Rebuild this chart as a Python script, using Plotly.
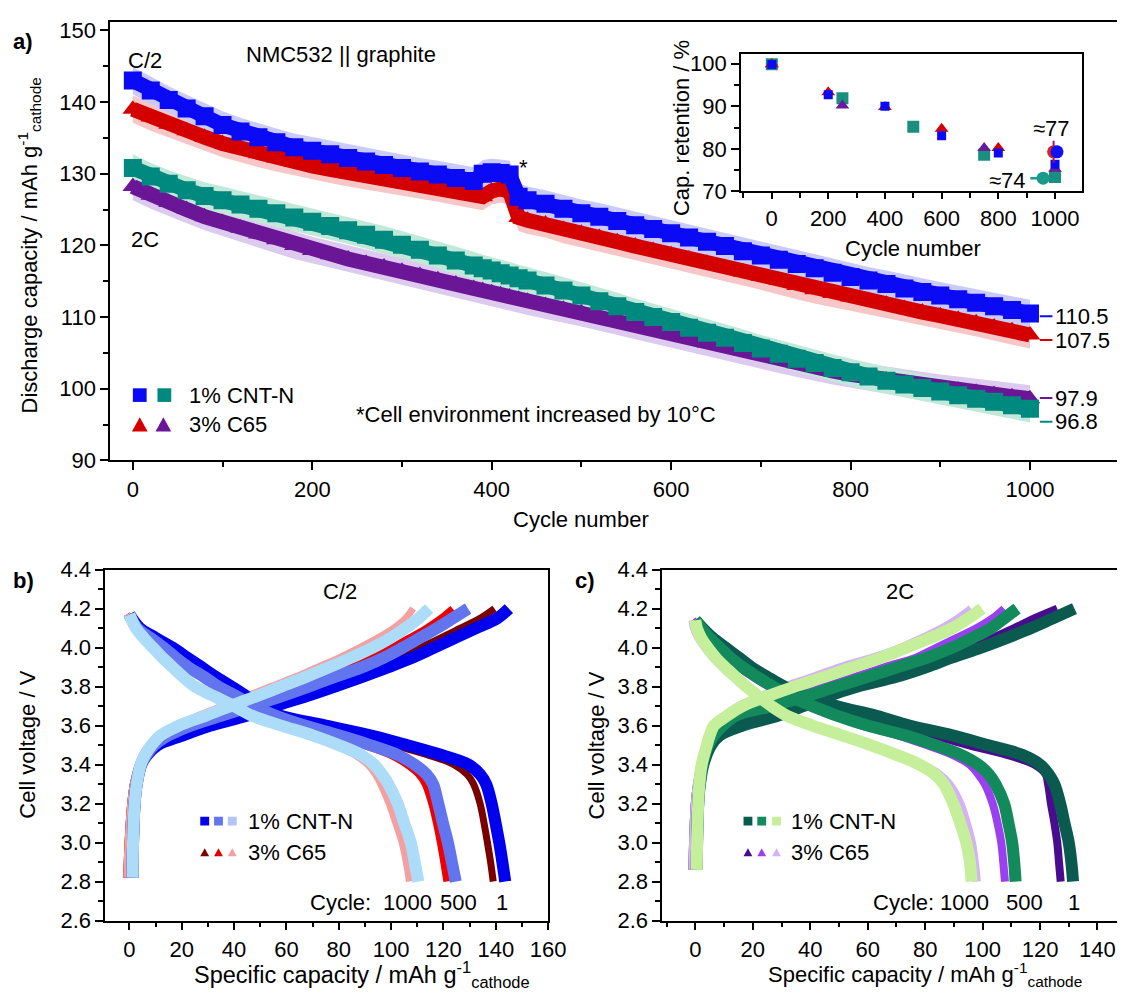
import plotly.graph_objects as go

W, H = 1135, 994
FONT = "Liberation Sans, Arial, Helvetica, sans-serif"

# ---------------- panel a: discharge capacity vs cycle ----------------
cycles_a = [0, 20, 40, 60, 80, 100, 120, 140, 160, 180, 200, 220, 240, 260, 280, 300, 320, 340, 360, 380,
            390, 400, 410, 420, 430,
            440, 460, 480, 500, 520, 540, 560, 580, 600, 620, 640, 660, 680, 700, 720, 740, 760, 780, 800,
            820, 840, 860, 880, 900, 920, 940, 960, 980, 1000]
cap_c2_cnt = [143.0, 141.6, 140.3, 139.1, 138.0, 136.8, 135.9, 135.1, 134.4, 133.7, 133.2, 132.7, 132.2, 131.7,
              131.2, 130.8, 130.3, 129.9, 129.4, 129.0,
              130.0, 130.2, 130.1, 129.9, 126.8,
              126.3, 125.8, 125.1, 124.5, 124.0, 123.4, 122.8, 122.3, 121.7, 121.1, 120.5, 119.9, 119.2, 118.6,
              118.0, 117.4, 116.8, 116.2, 115.6, 115.1, 114.6, 114.0, 113.5, 113.0, 112.5, 112.0, 111.5, 111.0, 110.5]
cap_c2_c65 = [139.0, 137.9, 136.9, 136.0, 135.1, 134.2, 133.5, 132.8, 132.2, 131.6, 131.1, 130.6, 130.1, 129.7,
              129.2, 128.8, 128.4, 128.0, 127.5, 127.0,
              126.8, 127.6, 127.9, 127.5, 123.9,
              123.5, 123.0, 122.2, 121.7, 121.1, 120.5, 119.9, 119.3, 118.7, 118.1, 117.5, 116.9, 116.3, 115.7,
              115.1, 114.4, 113.8, 113.3, 112.8, 112.3, 111.8, 111.2, 110.7, 110.2, 109.7, 109.2, 108.6, 108.1, 107.5]
cap_2c_cnt = [130.8, 129.6, 128.6, 127.7, 126.9, 126.3, 125.7, 125.1, 124.5, 123.9, 123.3, 122.7, 122.1, 121.5,
              120.8, 120.1, 119.4, 118.6, 117.9, 117.2,
              116.8, 116.5, 116.1, 115.8, 115.4,
              115.1, 114.4, 113.7, 113.0, 112.2, 111.5, 110.7, 110.0, 109.3, 108.5, 107.8, 107.1, 106.4, 105.6,
              104.9, 104.2, 103.6, 102.9, 102.3, 101.7, 101.1, 100.6, 100.1, 99.6, 99.1, 98.6, 98.2, 97.7, 97.2]
cap_2c_c65 = [128.2, 127.0, 126.0, 125.0, 124.0, 123.2, 122.4, 121.6, 120.8, 120.0, 119.3, 118.7, 118.1, 117.5,
              117.0, 116.4, 115.8, 115.2, 114.6, 114.0,
              113.7, 113.4, 113.1, 112.8, 112.5,
              112.2, 111.6, 111.1, 110.6, 110.0, 109.4, 108.8, 108.2, 107.6, 107.0, 106.4, 105.9, 105.3, 104.7,
              104.1, 103.5, 103.0, 102.5, 102.0, 101.6, 101.2, 100.8, 100.4, 100.1, 99.8, 99.5, 99.2, 98.9, 98.6]
spread_c2_cnt = 1.9
spread_c2_c65 = 1.9
spread_2c_cnt = 1.9
spread_2c_c65 = 1.9
end_labels = ["110.5", "107.5", "97.9", "96.8"]

# ---------------- inset: capacity retention ----------------
ret_c2_cnt_cyc = [1, 200, 400, 600, 800, 1000]
ret_c2_cnt = [99.8, 92.7, 90.0, 83.1, 79.0, 76.4]
ret_c2_c65_cyc = [1, 200, 400, 600, 800]
ret_c2_c65 = [99.9, 93.3, 89.8, 84.7, 80.2]
ret_2c_cnt_cyc = [1, 250, 500, 750, 1000]
ret_2c_cnt = [99.9, 91.9, 85.2, 78.6, 73.4]
ret_2c_c65_cyc = [1, 250, 750, 1000]
ret_2c_c65 = [99.9, 90.2, 80.2, 75.3]
est_c2_c65_cyc = [995]
est_c2_c65 = [79.3]
est_c2_c65_err = [2.6]
est_c2_cnt_cyc = [1007]
est_c2_cnt = [79.3]
est_2c_cyc = [958]
est_2c = [73.1]
est_2c_xerr = [45]
est_labels = ["≈77", "≈74"]

# ---------------- panel b: C/2 voltage profiles ----------------
b_dis_v = [4.17, 4.10, 4.05, 4.00, 3.95, 3.90, 3.85, 3.80, 3.75, 3.70, 3.65, 3.60, 3.55, 3.50, 3.45, 3.40,
           3.35, 3.30, 3.20, 3.10, 3.00, 2.90, 2.80]
b_dis_cnt_1 = [0, 4, 10, 16.5, 22, 27.5, 33, 39, 44.7, 49.5, 58, 75, 92, 106, 119, 129.5, 134, 136.3, 138.4,
               139.9, 141.3, 142.5, 143.6]
b_dis_cnt_500 = [0, 3, 8, 13, 17.6, 22.5, 28.5, 34, 41, 47.5, 56, 67, 80, 92, 102.5, 109, 113.5, 116, 118,
                 119.8, 121.7, 123.2, 124.7]
b_dis_cnt_1000 = [0, 2.5, 5.5, 9, 12.5, 16.5, 20.5, 25, 32.5, 40, 47, 58, 70, 80, 88.5, 93.5, 96.5, 99, 102.5,
                  105, 107.5, 109, 110.4]
b_dis_c65_1 = [-1, 3, 9, 15.5, 21, 26.5, 32, 38, 43.5, 48.5, 56, 72, 88, 101, 114, 124, 129, 131.5, 134,
               135.5, 136.8, 138, 139]
b_dis_c65_500 = [-1, 2.5, 7.5, 12.5, 17, 22, 28, 33.5, 40, 46.5, 55, 65.5, 78, 89.5, 99.5, 106, 110.5, 113,
                 115.5, 117.3, 118.8, 120.1, 121.3]
b_dis_c65_1000 = [-1, 2, 5, 8.5, 12, 16, 20, 24.5, 31.5, 39, 46, 56.5, 68, 78, 86, 91, 94, 96, 99.2, 101.8,
                  104.2, 105.8, 107]
b_chg_v = [2.82, 3.00, 3.20, 3.30, 3.40, 3.45, 3.50, 3.55, 3.60, 3.65, 3.70, 3.75, 3.80, 3.85, 3.90, 3.95,
           4.00, 4.05, 4.10, 4.15, 4.20]
b_chg_cnt_1 = [1.2, 1.4, 2.0, 2.8, 4.5, 6.8, 10.8, 20.5, 31, 44.7, 55.5, 67.5, 78.5, 89, 99, 108.5, 116.5,
               124.5, 132.5, 140.5, 145]
b_chg_cnt_500 = [1.2, 1.4, 2.0, 2.8, 4.5, 6.5, 9.5, 15, 23.5, 35, 46.5, 58, 68.5, 78.5, 89, 97.5, 104.5, 111,
                 117.5, 123.5, 129.4]
b_chg_cnt_1000 = [1.2, 1.4, 2.0, 2.8, 4.3, 6.0, 8.5, 12, 19, 29, 38.5, 48.5, 58, 67.5, 76.5, 85, 93, 99.8,
                  105.5, 110.5, 114.5]
b_chg_c65_1 = [-1, -0.5, 0.5, 1.5, 3.5, 5.5, 8.5, 14, 22, 34, 47, 60, 72, 83, 93, 102.5, 111, 119, 126.5,
               134, 139.5]
b_chg_c65_500 = [-1, -0.5, 0.5, 1.5, 3.5, 5.0, 7.5, 12, 19, 29, 41, 53.5, 64, 74, 83.5, 92.5, 100, 107, 113.5,
                 119, 123.5]
b_chg_c65_1000 = [-1, -0.5, 0.5, 1.5, 3.5, 5, 7.5, 11, 17.6, 26, 35.5, 44.7, 54, 63.5, 72, 80.5, 88, 95, 101,
                  105.5, 108.4]

# ---------------- panel c: 2C voltage profiles ----------------
c_dis_v = [4.14, 4.10, 4.05, 4.00, 3.95, 3.90, 3.85, 3.80, 3.75, 3.70, 3.65, 3.60, 3.55, 3.50, 3.45, 3.40,
           3.35, 3.30, 3.20, 3.10, 3.00, 2.90, 2.80]
c_dis_cnt_1 = [0, 2.5, 6, 10.5, 15, 19.5, 25, 31, 39, 49, 63, 74.5, 89.5, 101.7, 113.8, 120, 123, 125, 127,
               128.5, 130, 130.9, 131.5]
c_dis_cnt_500 = [0, 2, 5, 8.5, 12, 16.4, 21.5, 27, 33, 40.8, 49.5, 60, 73, 83.5, 92.5, 98.5, 102.2, 104.5,
                 107.5, 109, 110.3, 111, 111.5]
c_dis_cnt_1000 = [0, 0.5, 2, 4.3, 7, 10.3, 14, 17.8, 22, 26.5, 32, 40.8, 51, 61, 70, 78, 83.4, 86.5, 89.8,
                  92.2, 94.3, 95.6, 96.2]
c_dis_c65_1 = [-1, 1, 4.5, 9, 13.5, 18, 23, 29, 36.5, 46, 59, 70, 83, 95, 108.5, 118, 122, 122.8, 123.8, 125,
               126, 126.6, 127.2]
c_dis_c65_500 = [-1, 1.5, 4.5, 7.5, 11, 15, 20, 25.5, 31.5, 39, 48, 58, 70.5, 80.5, 89.5, 95.5, 98.5, 100.8,
                 103.5, 105.2, 106.5, 107.2, 107.8]
c_dis_c65_1000 = [-1, -0.5, 1, 3.3, 6, 9.3, 13, 17, 21, 25.5, 31, 39.5, 50, 60.5, 70, 79, 85, 88.5, 92.3,
                  94.5, 96.3, 97.3, 98]
c_chg_v = [2.86, 3.00, 3.20, 3.30, 3.40, 3.50, 3.55, 3.60, 3.65, 3.70, 3.75, 3.80, 3.85, 3.90, 3.95, 4.00,
           4.05, 4.10, 4.15, 4.20]
c_chg_cnt_1 = [0.5, 0.6, 1.0, 1.6, 2.8, 5.5, 8.5, 16.4, 28.6, 37.5, 46, 56.5, 70, 80.5, 89.5, 99.5, 108.5,
               117, 124.5, 132]
c_chg_cnt_500 = [0.5, 0.6, 1.0, 1.5, 2.5, 4.5, 6.5, 9.5, 14, 26.5, 38.5, 49, 60, 70.5, 81, 89.5, 96.5, 103,
                 107.5, 112]
c_chg_cnt_1000 = [0.5, 0.6, 1.0, 1.4, 2.2, 4, 5, 6.5, 11, 16.4, 25, 34.5, 45, 55, 65, 73.5, 82, 89.5, 95, 99.8]
c_chg_c65_1 = [-1, -0.8, -0.2, 0.6, 2, 4.5, 7, 12, 23, 33, 43, 54, 64, 75, 84, 93, 103.5, 111, 118, 126]
c_chg_c65_500 = [-1, -0.8, -0.2, 0.6, 2, 4, 6, 9, 14, 23, 34, 45, 55.5, 66, 77, 84, 91, 98, 103.5, 107.5]
c_chg_c65_1000 = [-1, -0.8, -0.2, 0.5, 1.7, 3.5, 5, 6.5, 10, 15, 22.5, 31, 41, 50.5, 62, 71.5, 79, 86, 91.5, 96]

cycle_labels = ["1000", "500", "1"]


def px(x):
    return x / W


def py(y):
    return 1 - y / H


fig = go.Figure()

# ---- panel a traces
series_a = [
    (cap_2c_c65, spread_2c_c65, "#6a1696", "#dccaef", "triangle-up"),
    (cap_2c_cnt, spread_2c_cnt, "#00897e", "#c2e8da", "square"),
    (cap_c2_c65, spread_c2_c65, "#d40000", "#f7c6c6", "triangle-up"),
    (cap_c2_cnt, spread_c2_cnt, "#0a0af5", "#cbcbfb", "square"),
]
for vals, sp, col, halo, sym in series_a:
    up = [v + sp for v in vals]
    lo = [v - sp for v in vals]
    fig.add_trace(go.Scatter(x=cycles_a + cycles_a[::-1], y=up + lo[::-1], fill="toself",
                             fillcolor=halo, line=dict(width=0), mode="lines",
                             xaxis="x", yaxis="y", showlegend=False, hoverinfo="skip"))
for vals, sp, col, halo, sym in series_a:
    fig.add_trace(go.Scatter(x=cycles_a, y=vals, mode="lines+markers",
                             line=dict(color=col, width=15),
                             marker=dict(symbol=sym, size=18, color=col, line=dict(width=0)),
                             xaxis="x", yaxis="y", showlegend=False))

# ---- inset traces
fig.add_trace(go.Scatter(x=ret_2c_cnt_cyc, y=ret_2c_cnt, mode="markers", xaxis="x2", yaxis="y2",
                         marker=dict(symbol="square", size=12, color="#1a8f80"), showlegend=False))
fig.add_trace(go.Scatter(x=ret_2c_c65_cyc, y=ret_2c_c65, mode="markers", xaxis="x2", yaxis="y2",
                         marker=dict(symbol="triangle-up", size=12, color="#6a1a9a"), showlegend=False))
fig.add_trace(go.Scatter(x=ret_c2_c65_cyc, y=ret_c2_c65, mode="markers", xaxis="x2", yaxis="y2",
                         marker=dict(symbol="triangle-up", size=12, color="#d40000"), showlegend=False))
fig.add_trace(go.Scatter(x=ret_c2_cnt_cyc, y=ret_c2_cnt, mode="markers", xaxis="x2", yaxis="y2",
                         marker=dict(symbol="square", size=9, color="#0a0af5"), showlegend=False))
fig.add_trace(go.Scatter(x=est_c2_c65_cyc, y=est_c2_c65, mode="markers", xaxis="x2", yaxis="y2",
                         error_y=dict(type="data", array=est_c2_c65_err, color="#b01060", thickness=2, width=0),
                         marker=dict(symbol="circle", size=13, color="#e02020"), showlegend=False))
fig.add_trace(go.Scatter(x=est_c2_cnt_cyc, y=est_c2_cnt, mode="markers", xaxis="x2", yaxis="y2",
                         marker=dict(symbol="circle", size=13, color="#1010f0"), showlegend=False))
fig.add_trace(go.Scatter(x=est_2c_cyc, y=est_2c, mode="markers", xaxis="x2", yaxis="y2",
                         error_x=dict(type="data", symmetric=False, array=[0], arrayminus=est_2c_xerr,
                                      color="#1a9a8a", thickness=2.5, width=0),
                         marker=dict(symbol="circle", size=13, color="#1a9a8a"), showlegend=False))

# ---- panel b & c traces
b_sets = [
    (b_dis_c65_1, b_dis_v, "#7a0000", 7), (b_chg_c65_1, b_chg_v, "#7a0000", 7),
    (b_dis_c65_500, b_dis_v, "#ee0000", 7), (b_chg_c65_500, b_chg_v, "#ee0000", 7),
    (b_dis_c65_1000, b_dis_v, "#f4a0a0", 7), (b_chg_c65_1000, b_chg_v, "#f4a0a0", 7),
    (b_dis_cnt_1, b_dis_v, "#0000ee", 12), (b_chg_cnt_1, b_chg_v, "#0000ee", 12),
    (b_dis_cnt_500, b_dis_v, "#6275ee", 12), (b_chg_cnt_500, b_chg_v, "#6275ee", 12),
    (b_dis_cnt_1000, b_dis_v, "#acdcf8", 12), (b_chg_cnt_1000, b_chg_v, "#acdcf8", 12),
]
for xs, ys, col, wd in b_sets:
    fig.add_trace(go.Scatter(x=xs, y=ys, mode="lines", line=dict(color=col, width=wd, shape="spline"),
                             xaxis="x3", yaxis="y3", showlegend=False))
c_sets = [
    (c_dis_c65_1, c_dis_v, "#4a0c8f", 8), (c_chg_c65_1, c_chg_v, "#4a0c8f", 8),
    (c_dis_c65_500, c_dis_v, "#9a40f0", 8), (c_chg_c65_500, c_chg_v, "#9a40f0", 8),
    (c_dis_c65_1000, c_dis_v, "#d4b2f3", 8), (c_chg_c65_1000, c_chg_v, "#d4b2f3", 8),
    (c_dis_cnt_1, c_dis_v, "#0b5a4f", 12), (c_chg_cnt_1, c_chg_v, "#0b5a4f", 12),
    (c_dis_cnt_500, c_dis_v, "#138a5c", 12), (c_chg_cnt_500, c_chg_v, "#138a5c", 12),
    (c_dis_cnt_1000, c_dis_v, "#c6ef9c", 12), (c_chg_cnt_1000, c_chg_v, "#c6ef9c", 12),
]
for xs, ys, col, wd in c_sets:
    fig.add_trace(go.Scatter(x=xs, y=ys, mode="lines", line=dict(color=col, width=wd, shape="spline"),
                             xaxis="x4", yaxis="y4", showlegend=False))


# ---- axes
def ax(domain, rng, dtick, mdtick, anchor, mirror, fmt=None, tick0=0, size=22, tlen=8):
    d = dict(domain=domain, range=rng, dtick=dtick, tick0=tick0, anchor=anchor, showline=True,
             linecolor="black", linewidth=1.8, mirror=mirror, ticks="outside", ticklen=tlen, tickwidth=1.8,
             tickcolor="black", showgrid=False, zeroline=False,
             tickfont=dict(family=FONT, size=size, color="black"),
             minor=dict(ticks="outside", ticklen=5, tickwidth=1.5, dtick=mdtick, tick0=tick0,
                        tickcolor="black", showgrid=False))
    if fmt:
        d["tickformat"] = fmt
    return d


ya_rng = [90, 151.2]
yi_rng = [70, 102.3]
layout = dict(
    width=W, height=H, autosize=False, margin=dict(l=0, r=0, t=0, b=0),
    paper_bgcolor="white", plot_bgcolor="white", hovermode=False,
    font=dict(family=FONT, size=22, color="black"),
    xaxis=ax([px(112), 1.0], [-25.2, 1097], 200, 100, "y", True),
    yaxis=ax([py(460), py(10)], ya_rng, 10, 5, "x", False),
    xaxis2=ax([px(753), px(1099)], [-107.6, 1093.7], 200, 100, "y2", True, tlen=6),
    yaxis2=ax([py(184), py(43)], yi_rng, 10, 5, "x2", True),
    xaxis3=ax([px(107), px(557)], [-9.2, 160], 20, 10, "y3", True),
    yaxis3=ax([py(932), py(572)], [2.6, 4.4], 0.2, 0.1, "x3", True, ".1f", 2.6),
    xaxis4=ax([px(673), 1.0], [-11.5, 146.8], 20, 10, "y4", True),
    yaxis4=ax([py(932), py(572)], [2.6, 4.4], 0.2, 0.1, "x4", False, ".1f", 2.6),
    yaxis5=dict(overlaying="y", side="right", anchor="x", range=ya_rng, dtick=10, tick0=0,
                ticks="inside", ticklen=8, tickwidth=1.8, tickcolor="black", showticklabels=False,
                showline=False, showgrid=False, zeroline=False),
    yaxis6=dict(overlaying="y2", side="right", anchor="x2", range=yi_rng, dtick=10, tick0=0,
                ticks="inside", ticklen=7, tickwidth=1.8, tickcolor="black", showticklabels=False,
                showline=False, showgrid=False, zeroline=False,
                minor=dict(ticks="inside", ticklen=4, tickwidth=1.5, dtick=5, tick0=0, tickcolor="black")),
)
fig.update_layout(**layout)

# ---- annotations and shapes
ann = []
shapes = []


def txt(s, x, y, xanchor="center", size=22, bold=False, angle=0, color="black"):
    if bold:
        s = "<b>" + s + "</b>"
    ann.append(dict(text=s, x=px(x), y=py(y), xref="paper", yref="paper", xanchor=xanchor,
                    yanchor="middle", showarrow=False, textangle=angle,
                    font=dict(family=FONT, size=size, color=color)))


def sq(cx, cy, s, col):
    shapes.append(dict(type="rect", xref="paper", yref="paper", x0=px(cx - s / 2), x1=px(cx + s / 2),
                       y0=py(cy + s / 2), y1=py(cy - s / 2), fillcolor=col, line=dict(width=0)))


def tri(cx, cy, s, col):
    h = s * 0.9
    path = "M {} {} L {} {} L {} {} Z".format(px(cx - s / 2), py(cy + h / 2), px(cx + s / 2), py(cy + h / 2),
                                              px(cx), py(cy - h / 2))
    shapes.append(dict(type="path", xref="paper", yref="paper", path=path, fillcolor=col, line=dict(width=0)))


# panel a text
txt("a)", 23, 30, bold=True)
txt("C/2", 147, 50)
txt("2C", 147, 233)
txt("NMC532 || graphite", 347, 44)
txt("*", 532, 160)
txt("1% CNT-N", 190, 393, "left")
txt("3% C65", 190, 423, "left")
txt("*Cell environment increased by 10°C", 360, 413, "left")
txt("Cycle number", 590, 521)
txt("Discharge capacity / mAh g<sup>-1</sup><sub>cathode</sub>", 30, 240, angle=-90)
sq(142, 393, 14, "#0a0af5")
sq(167, 393, 14, "#00897e")
tri(142, 423, 16, "#d40000")
tri(166, 423, 16, "#6a1696")

# end-value labels with leader lines
label_y = [110.1, 106.8, 98.7, 95.4]
label_col = ["#0a0af5", "#d40000", "#6a1696", "#00897e"]
for s, yv, col in zip(end_labels, label_y, label_col):
    shapes.append(dict(type="line", xref="x", yref="y", x0=1011, x1=1025, y0=yv, y1=yv,
                       line=dict(color=col, width=2)))
    ann.append(dict(text=s, x=1026, y=yv, xref="x", yref="y", xanchor="left", yanchor="middle",
                    showarrow=False, font=dict(family=FONT, size=22, color="black")))

# inset text
txt("Cap. retention / %", 692, 119, angle=-90)
txt("Cycle number", 928, 243)
txt(est_labels[0], 1068, 120)
txt(est_labels[1], 1024, 173)

# panel b text
txt("b)", 24, 583, bold=True)
txt("C/2", 345, 594)
for cx, col in zip([208, 222, 236], ["#0000ee", "#6275ee", "#b4c4f6"]):
    sq(cx, 830, 9, col)
for cx, col in zip([208, 222, 236], ["#7a0000", "#dd0000", "#f4a0a0"]):
    tri(cx, 862, 9, col)
txt("1% CNT-N", 250, 830, "left")
txt("3% C65", 250, 862, "left")
txt("Cycle:", 313, 913, "left")
for s, cx in zip(cycle_labels, [414, 466, 510]):
    txt(s, cx, 913)
txt("Cell voltage / V", 28, 752, angle=-90)
txt("Specific capacity / mAh g<sup>-1</sup><sub>cathode</sub>", 368, 987, size=23.5)

# panel c text
txt("c)", 594, 583, bold=True)
txt("2C", 914, 594)
for cx, col in zip([760, 774, 789], ["#0b5a4f", "#138a5c", "#c6ef9c"]):
    sq(cx, 830, 9, col)
for cx, col in zip([760, 774, 789], ["#4a0c8f", "#9a40f0", "#d4b2f3"]):
    tri(cx, 862, 9, col)
txt("1% CNT-N", 802, 830, "left")
txt("3% C65", 802, 862, "left")
txt("Cycle:", 885, 913, "left")
for s, cx in zip(cycle_labels, [980, 1041, 1091]):
    txt(s, cx, 913)
txt("Cell voltage / V", 606, 752, angle=-90)
txt("Specific capacity / mAh g<sup>-1</sup><sub>cathode</sub>", 940, 987, size=22)

fig.update_layout(annotations=ann, shapes=shapes)
fig.write_html("out.html")
